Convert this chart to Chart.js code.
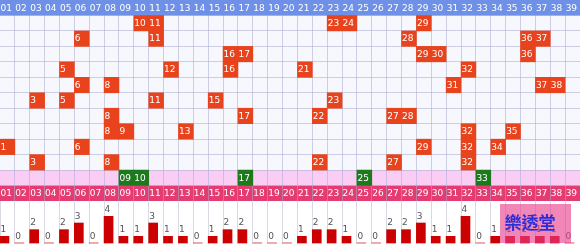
<!DOCTYPE html>
<html>
<head>
<meta charset="utf-8">
<script src="https://cdn.jsdelivr.net/npm/chart.js@4/dist/chart.umd.min.js"></script>
<style>
html, body { margin: 0; padding: 0; background: #fff; }
canvas { display: block; }
</style>
</head>
<body>
<canvas id="gridChart" width="580" height="201"></canvas>
<canvas id="countChart" width="580" height="43"></canvas>
<script>
const balls = ['01','02','03','04','05','06','07','08','09','10','11','12','13',
               '14','15','16','17','18','19','20','21','22','23','24','25','26',
               '27','28','29','30','31','32','33','34','35','36','37','38','39'];

// one row per draw, top to bottom
const draws = [
    [10, 11, 23, 24, 29],
    [6, 11, 28, 36, 37],
    [16, 17, 29, 30, 36],
    [5, 12, 16, 21, 32],
    [6, 8, 31, 37, 38],
    [3, 5, 11, 15, 23],
    [8, 17, 22, 27, 28],
    [8, 9, 13, 32, 35],
    [1, 6, 29, 32, 34],
    [3, 8, 22, 27, 32]
];

// green row
const special = ['09', '10', '17', '25', '33'];

// counts under the grid
const counts = [1, 0, 2, 0, 2, 3, 0, 4, 1, 1, 3, 1, 1, 0, 1, 2, 2, 0, 0, 0,
                1, 2, 2, 1, 0, 0, 2, 2, 3, 1, 1, 4, 0, 1, 1, 1, 1, 1, 0];

const FONT = '9px "DejaVu Sans", sans-serif';
const LINE = 'rgba(170, 172, 210, 0.55)';

// rows: 0 header, 1..10 draws, 11 special, 12 second header
const drawCells = draws.flatMap((row, r) => row.map(n => ({ x: balls[n - 1], y: [r + 1, r + 2] })));
const specialCells = special.map(s => ({ x: s, y: [11, 12] }));

function band(chart, from, to, color) {
    const { ctx, chartArea: a, scales: { y } } = chart;
    const top = y.getPixelForValue(from);
    const bottom = y.getPixelForValue(to);
    ctx.save();
    ctx.fillStyle = color;
    ctx.fillRect(a.left, top, a.width, bottom - top);
    ctx.restore();
}

function rowLabels(chart, row) {
    const { ctx, scales: { x, y } } = chart;
    const w = x.width / balls.length;
    ctx.save();
    ctx.font = FONT;
    ctx.fillStyle = '#fff';
    ctx.textAlign = 'left';
    ctx.textBaseline = 'middle';
    balls.forEach((b, i) => {
        ctx.fillText(b, x.getPixelForValue(i) - w / 2 + 0.5, y.getPixelForValue(row + 0.5) + 0.5);
    });
    ctx.restore();
}

const gridDeco = {
    id: 'gridDeco',
    beforeDraw(chart) {
        const { ctx, chartArea: a } = chart;
        ctx.save();
        ctx.fillStyle = '#f7f8fd';
        ctx.fillRect(a.left, a.top, a.width, a.height);
        ctx.restore();
        band(chart, 11, 12, '#facdf5');
        band(chart, 12, 13, '#e43b70');
    },
    beforeDatasetsDraw(chart) {
        band(chart, 0, 1, '#6e90e6');
    },
    afterDatasetsDraw(chart) {
        const ctx = chart.ctx;
        rowLabels(chart, 0);
        rowLabels(chart, 12);
        ctx.save();
        ctx.font = FONT;
        ctx.fillStyle = '#fff';
        ctx.textAlign = 'left';
        ctx.textBaseline = 'middle';
        chart.data.datasets.forEach((ds, di) => {
            chart.getDatasetMeta(di).data.forEach((el, i) => {
                const raw = ds.data[i].x;
                const txt = di === 0 ? String(parseInt(raw, 10)) : raw;
                ctx.fillText(txt, el.x - el.width / 2 + 0.5, (el.y + el.base) / 2 + 0.5);
            });
        });
        ctx.restore();
    }
};

new Chart(document.getElementById('gridChart'), {
    type: 'bar',
    data: {
        labels: balls,
        datasets: [
            { data: drawCells, backgroundColor: '#e8431c', grouped: false,
              barPercentage: 1, categoryPercentage: 1, borderWidth: 0 },
            { data: specialCells, backgroundColor: '#1c7a1c', grouped: false,
              barPercentage: 1, categoryPercentage: 1, borderWidth: 0 }
        ]
    },
    options: {
        responsive: false,
        animation: false,
        layout: { padding: 0 },
        plugins: { legend: { display: false }, tooltip: { enabled: false } },
        scales: {
            x: {
                type: 'category',
                offset: true,
                grid: { offset: true, color: LINE, drawTicks: false },
                border: { display: false },
                ticks: { display: false }
            },
            y: {
                type: 'linear',
                min: 0, max: 13,
                reverse: true,
                grid: { color: LINE, drawTicks: false },
                border: { display: false },
                ticks: { display: false, stepSize: 1 }
            }
        }
    },
    plugins: [gridDeco]
});

const countDeco = {
    id: 'countDeco',
    afterDatasetsDraw(chart) {
        const { ctx } = chart;
        ctx.save();
        ctx.font = FONT;
        ctx.fillStyle = '#555';
        ctx.textAlign = 'left';
        ctx.textBaseline = 'alphabetic';
        chart.getDatasetMeta(0).data.forEach((el, i) => {
            ctx.fillText(String(counts[i]), el.x - el.width / 2 + 0.5, el.y - 4.5);
        });
        ctx.restore();
    },
    afterDraw(chart) {
        // site watermark
        const { ctx, chartArea: a } = chart;
        ctx.save();
        ctx.fillStyle = 'rgba(232, 62, 140, 0.62)';
        ctx.fillRect(a.right - 80, a.top + 3, 71, 39);
        ctx.fillStyle = '#2e2ed6';
        ctx.font = 'bold 17px "Noto Sans CJK TC", sans-serif';
        ctx.textAlign = 'center';
        ctx.textBaseline = 'middle';
        ctx.fillText('樂透堂', a.right - 50, a.top + 22);
        ctx.restore();
    }
};

new Chart(document.getElementById('countChart'), {
    type: 'bar',
    data: {
        datasets: [{
            data: counts.map((c, i) => ({ x: i + 0.3, y: c })),
            backgroundColor: '#cc0000',
            barThickness: 9,
            borderWidth: 0
        }]
    },
    options: {
        responsive: false,
        animation: false,
        layout: { padding: 0 },
        plugins: { legend: { display: false }, tooltip: { enabled: false } },
        scales: {
            x: {
                type: 'linear',
                offset: false,
                min: 0, max: 39,
                grid: { offset: false, color: 'rgba(170, 170, 190, 0.45)', drawTicks: false },
                border: { display: false },
                ticks: { display: false, stepSize: 1 }
            },
            y: {
                display: false,
                min: -0.15, max: 6.3
            }
        }
    },
    plugins: [countDeco]
});
</script>
</body>
</html>
